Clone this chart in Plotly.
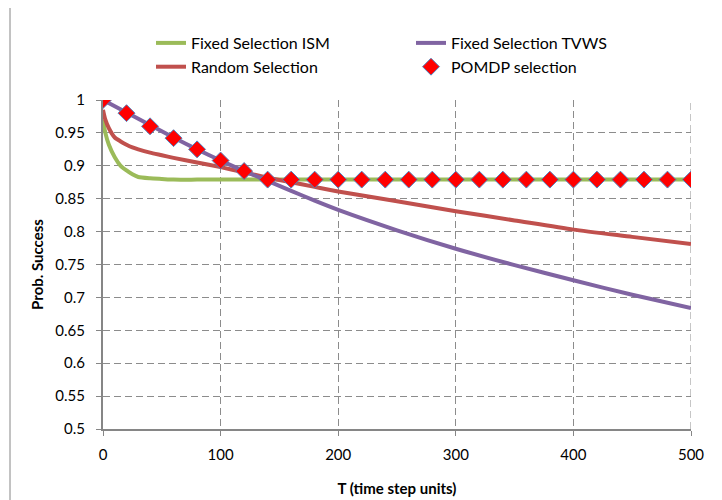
import plotly.graph_objects as go

# ---- data ----
t_ism = [0, 2, 5, 10, 15, 20, 25, 30, 40, 50, 60, 80, 100, 150, 200, 250, 300, 350, 400, 450, 500]
p_ism = [0.97, 0.95, 0.932, 0.913, 0.900, 0.893, 0.887, 0.883, 0.881, 0.880, 0.879, 0.879, 0.879,
         0.879, 0.879, 0.879, 0.879, 0.879, 0.879, 0.879, 0.879]

t_tvws = [0, 20, 40, 60, 80, 100, 120, 140, 160, 180, 200, 250, 300, 350, 400, 450, 500]
p_tvws = [1.0, 0.981, 0.962, 0.943, 0.925, 0.908, 0.892, 0.877, 0.862, 0.847, 0.833,
          0.802, 0.774, 0.749, 0.726, 0.704, 0.684]

t_rand = [0, 2, 5, 10, 15, 20, 25, 30, 40, 50, 60, 80, 100, 120, 140, 160, 180, 200,
          250, 300, 350, 400, 450, 500]
p_rand = [0.985, 0.970, 0.957, 0.943, 0.937, 0.932, 0.928, 0.925, 0.920, 0.916, 0.912,
          0.905, 0.898, 0.890, 0.882, 0.875, 0.868, 0.861, 0.846, 0.831, 0.817, 0.803,
          0.792, 0.781]

t_pomdp = [0, 20, 40, 60, 80, 100, 120, 140, 160, 180, 200, 220, 240, 260, 280, 300,
           320, 340, 360, 380, 400, 420, 440, 460, 480, 500]
p_pomdp = [1.0, 0.98, 0.96, 0.942, 0.925, 0.908, 0.892, 0.879, 0.879, 0.879, 0.879, 0.879,
           0.879, 0.879, 0.879, 0.879, 0.879, 0.879, 0.879, 0.879, 0.879, 0.879, 0.879,
           0.879, 0.879, 0.879]

x_ticks = [0, 100, 200, 300, 400, 500]
y_ticks = [0.5, 0.55, 0.6, 0.65, 0.7, 0.75, 0.8, 0.85, 0.9, 0.95, 1.0]
y_labels = ["0.5", "0.55", "0.6", "0.65", "0.7", "0.75", "0.8", "0.85", "0.9", "0.95", "1"]

FONT = "Lato"
GRID = "#8c8c8c"
AXIS = "#868686"
DASH = "7px,4px"

fig = go.Figure()
fig.add_trace(go.Scatter(x=t_ism, y=p_ism, mode="lines", name="Fixed Selection ISM",
                         line=dict(color="#9BBB59", width=4, shape="spline", smoothing=0.6),
                         legend="legend"))
fig.add_trace(go.Scatter(x=t_rand, y=p_rand, mode="lines", name="Random Selection",
                         line=dict(color="#C0504D", width=4, shape="spline", smoothing=0.6),
                         legend="legend"))
fig.add_trace(go.Scatter(x=t_tvws, y=p_tvws, mode="lines", name="Fixed Selection TVWS",
                         line=dict(color="#8064A2", width=4, shape="spline", smoothing=0.6),
                         legend="legend2"))
fig.add_trace(go.Scatter(x=t_pomdp, y=p_pomdp, mode="markers", name="POMDP selection",
                         marker=dict(symbol="diamond", size=13, color="#FF0000",
                                     line=dict(color="#4F81BD", width=1)),
                         legend="legend2"))

LEG_Y = (429 - 26) / 329
fig.update_layout(
    width=722, height=500,
    margin=dict(l=95, r=39, t=92, b=79),
    paper_bgcolor="white", plot_bgcolor="white",
    font=dict(family=FONT, size=15, color="#000000"),
    legend=dict(x=(151 - 103) / 588, y=LEG_Y, xanchor="left", yanchor="top",
                bgcolor="rgba(0,0,0,0)", font=dict(size=16, family=FONT),
                tracegroupgap=0, itemwidth=30),
    legend2=dict(x=(411 - 103) / 588, y=LEG_Y, xanchor="left", yanchor="top",
                 bgcolor="rgba(0,0,0,0)", font=dict(size=16, family=FONT),
                 tracegroupgap=0, itemwidth=30),
    showlegend=True,
)

fig.update_xaxes(
    range=[0, 500], tickvals=x_ticks, ticktext=[str(v) for v in x_ticks],
    showline=True, linecolor=AXIS, linewidth=2,
    showgrid=True, gridcolor=GRID, griddash=DASH, gridwidth=1,
    ticks="outside", ticklen=5, tickcolor=AXIS, tickwidth=1,
    ticklabelstandoff=6,
    zeroline=False,
    title=dict(text="<b>T (time step units)</b>", font=dict(size=15, family=FONT), standoff=21),
    tickfont=dict(size=15, family=FONT),
)
fig.update_yaxes(
    range=[0.5, 1.0], tickvals=y_ticks, ticktext=y_labels,
    showline=True, linecolor=AXIS, linewidth=2,
    showgrid=True, gridcolor=GRID, griddash=DASH, gridwidth=1,
    ticks="outside", ticklen=5, tickcolor=AXIS, tickwidth=1,
    ticklabelstandoff=8,
    zeroline=False,
    title=dict(text="<b>Prob. Success</b>", font=dict(size=15, family=FONT), standoff=8),
    tickfont=dict(size=15, family=FONT),
)

# right-edge dashed gridline at x=500
fig.add_shape(type="line", xref="x", yref="paper", x0=500, x1=500, y0=0, y1=1,
              line=dict(color=GRID, width=1, dash=DASH), layer="below")

# chart-area border
fig.add_shape(type="rect", xref="paper", yref="paper",
              x0=(10 - 103) / 588, x1=(720 - 103) / 588,
              y0=(429 - 520) / 329, y1=(429 - 7) / 329,
              line=dict(color=AXIS, width=1), fillcolor="rgba(0,0,0,0)", layer="below")

fig.write_html("out.html")
